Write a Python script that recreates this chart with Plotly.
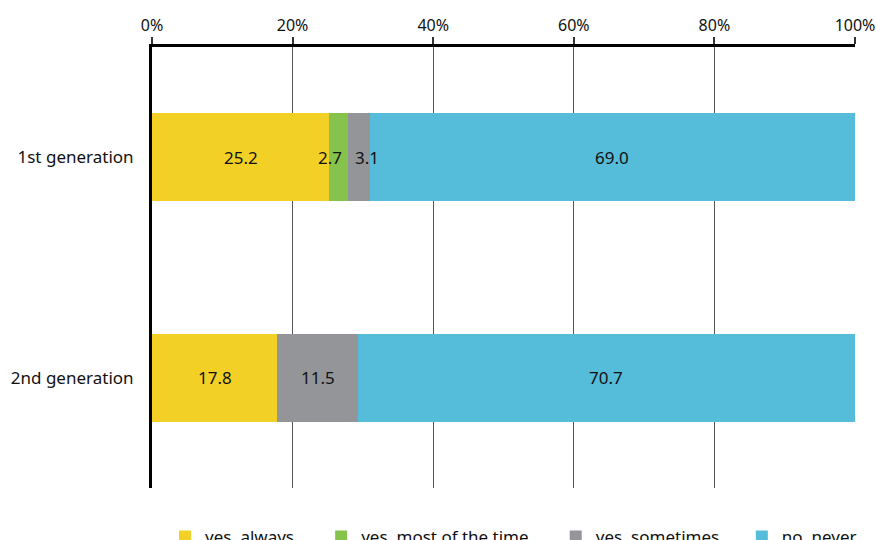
import plotly.graph_objects as go

categories = ["1st generation", "2nd generation"]
series_names = ["yes, always", "yes, most of the time", "yes, sometimes", "no, never"]
always = [25.2, 17.8]
most = [2.7, 0.0]
sometimes = [3.1, 11.5]
never = [69.0, 70.7]
colors = ["#F2D025", "#86C34D", "#939598", "#55BCDA"]
tick_vals = [0, 20, 40, 60, 80, 100]
tick_text = ["0%", "20%", "40%", "60%", "80%", "100%"]

FONT = "Noto Sans"
pads = ["\u00a0" * 5, "\u00a0" * 5, "\u00a0" * 4, ""]
all_series = [always, most, sometimes, never]

fig = go.Figure()
for name, vals, col, pad in zip(series_names, all_series, colors, pads):
    fig.add_trace(go.Bar(
        y=categories, x=vals, name=name + pad, orientation="h",
        marker=dict(color=col, line=dict(width=0)),
        width=0.4,
    ))

# value labels computed from the data (centred on each segment; tiny segments nudged apart)
annotations = []
for ci, cat in enumerate(categories):
    cum = 0.0
    small_seen = 0
    for si, vals in enumerate(all_series):
        v = vals[ci]
        if v > 0:
            shift = 0
            if v < 5:
                shift = -9 if small_seen == 0 else 8
                small_seen += 1
            annotations.append(dict(
                x=cum + v / 2, y=cat, xref="x", yref="y", text=f"{v:.1f}",
                showarrow=False, xshift=shift,
                font=dict(family=FONT, size=17, color="#111111"),
            ))
        cum += v

fig.update_layout(
    barmode="stack",
    width=876, height=540,
    margin=dict(l=152, r=21, t=47, b=52, autoexpand=False),
    plot_bgcolor="white", paper_bgcolor="white",
    font=dict(family=FONT, size=17, color="#111111"),
    showlegend=True,
    legend=dict(orientation="h", x=0.0185, y=-0.070, xanchor="left", yanchor="top",
                font=dict(family=FONT, size=17, color="#111111"),
                traceorder="normal", itemsizing="constant"),
    annotations=annotations,
)
fig.update_xaxes(
    side="top", range=[0, 100], tickvals=tick_vals, ticktext=tick_text,
    tickfont=dict(family=FONT, size=16, color="#111111"),
    showgrid=True, gridcolor="#555555", gridwidth=1,
    showline=True, linecolor="black", linewidth=3,
    ticks="outside", ticklen=7, tickcolor="#333333", tickwidth=1.5,
    zeroline=False, fixedrange=True,
)
fig.update_yaxes(
    autorange="reversed", showline=True, linecolor="black", linewidth=3,
    ticks="", ticklabelstandoff=12, showgrid=False, zeroline=False,
    tickfont=dict(family=FONT, size=17, color="#111111"),
)
fig.write_html("out.html")
